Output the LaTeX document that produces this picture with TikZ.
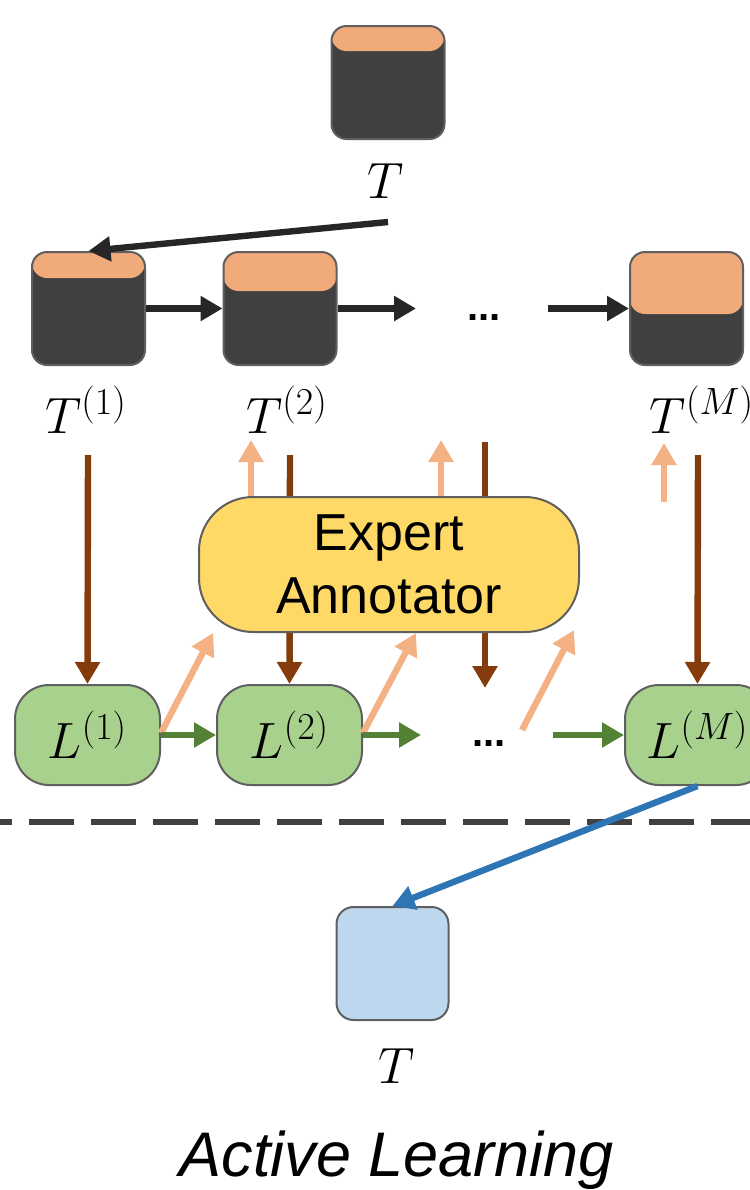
\RequirePackage{fix-cm}
\documentclass[tikz,border=0pt]{standalone}
\usepackage{fontspec}
\newfontfamily\arialf{Liberation Sans}
\usetikzlibrary{arrows.meta,backgrounds}
\definecolor{dark}{HTML}{404040}
\definecolor{bordergray}{HTML}{5F5F5F}
\definecolor{topor}{HTML}{F1AB7B}
\definecolor{lor}{HTML}{F4B183}
\definecolor{gfill}{HTML}{A9D18E}
\definecolor{garrow}{HTML}{538135}
\definecolor{brown}{HTML}{843C0C}
\definecolor{barrow}{HTML}{2E75B6}
\definecolor{bfill}{HTML}{BDD7EE}
\definecolor{yfill}{HTML}{FFD966}
\newcommand{\sss}[1]{\mbox{\fontsize{19}{22}\selectfont$(#1)$}}
\begin{document}
\begin{tikzpicture}[x=0.5pt,y=-0.5pt,
  tbox/.style={draw=bordergray, line width=1pt, fill=dark, rounded corners=7.5pt,
    minimum width=56.5pt, minimum height=56.5pt, inner sep=0pt,
    path picture={\fill[topor] ([yshift=2pt]path picture bounding box.north west)
      rectangle ([yshift=-#1]path picture bounding box.north east);}},
  lbox/.style={draw=bordergray, line width=1pt, fill=gfill, rounded corners=17pt,
    minimum width=72.5pt, minimum height=50pt, inner sep=0pt,
    font=\fontsize{25.5}{30}\selectfont},
  bbox/.style={draw=bordergray, line width=1pt, fill=bfill, rounded corners=8.5pt,
    minimum width=56pt, minimum height=56.5pt, inner sep=0pt},
  expert/.style={draw=bordergray, line width=1pt, fill=yfill, rounded corners=27pt,
    minimum width=190pt, minimum height=67.5pt, inner sep=0pt, align=center,
    font=\arialf\fontsize{26}{31.5}\selectfont},
  lbl/.style={inner sep=0pt, anchor=base, font=\fontsize{25.5}{30}\selectfont},
  dots/.style={inner sep=0pt, font=\arialf\bfseries\fontsize{20}{24}\selectfont},
  arr/.style={line width=3.2pt, -{Triangle[length=11pt,width=12pt]}},
  blk/.style={arr, draw=black!85},
  brn/.style={arr, draw=brown},
  orn/.style={arr, draw=lor},
  grn/.style={arr, draw=garrow},
  blu/.style={arr, draw=barrow},
]
\useasboundingbox (0,0) rectangle (750,1190);

% top row
\node[tbox=12.5pt] (T0) at (388,82.5) {};
\node[lbl] (T0l) at (386,198) {$T$};
\node[tbox=13pt] (T1) at (88.5,308.5) {};
\node[tbox=19.5pt] (T2) at (280,308.5) {};
\node[tbox=31pt] (TM) at (686.5,308.5) {};
\node[dots] (tdots) at (484,318) {...};
\node[lbl] (T1l) at (86,433) {$T^{\sss{1}}$};
\node[lbl] (T2l) at (287,433) {$T^{\sss{2}}$};
\node[lbl] (TMl) at (702,433) {$T^{\sss{M}}$};

% expert annotator
\node[expert] (EA) at (389,564.5) {Expert\\Annotator};

% L row
\node[lbox] (L1) at (87.5,735) {$L^{\sss{1}}$};
\node[lbox] (L2) at (289.5,735) {$L^{\sss{2}}$};
\node[lbox] (LM) at (697.5,735) {$L^{\sss{M}}$};
\node[dots] (ldots) at (489,744) {...};

% bottom
\node[bbox] (TB) at (392.5,963.5) {};
\node[lbl] (TBl) at (397,1083) {$T$};
\node[inner sep=0pt, anchor=base, font=\arialf\itshape\fontsize{31.5}{36}\selectfont] (title) at (397,1176) {Active Learning};

% coordinates
\coordinate (s0) at (388,222);
\coordinate (t2e) at (416,308.5);
\coordinate (tMs) at (548,308.5);
\coordinate (b1) at (88,455);
\coordinate (b2) at (290,455);
\coordinate (b3s) at (485,442);
\coordinate (b3e) at (485,688);
\coordinate (b4) at (698,455);
\coordinate (u1) at (251,440);
\coordinate (u2) at (441,440);
\coordinate (u3s) at (664,502);
\coordinate (u3e) at (664,443);
\coordinate (d1e) at (213,633);
\coordinate (d2e) at (416,633);
\coordinate (d3s) at (522,730);
\coordinate (d3e) at (574,630);
\coordinate (g2e) at (421,735);
\coordinate (g3s) at (553,735);
\coordinate (dl) at (0,822);
\coordinate (dr) at (750,822);

\begin{scope}[on background layer]
\draw[brn] (b1) -- (L1.north);
\draw[brn] (b2) -- (L2.north);
\draw[brn] (b3s) -- (b3e);
\end{scope}
\draw[brn] (b4) -- (LM.north);

\draw[blk] (s0) -- (T1.north);
\draw[blk] (T1.east) -- (T2.west);
\draw[blk] (T2.east) -- (t2e);
\draw[blk] (tMs) -- (TM.west);

\draw[orn] (u1 |- EA.north) -- (u1);
\draw[orn] (u2 |- EA.north) -- (u2);
\draw[orn] (u3s) -- (u3e);
\draw[orn] ([yshift=1pt]L1.east) -- (d1e);
\draw[orn] ([yshift=1pt]L2.east) -- (d2e);
\draw[orn] (d3s) -- (d3e);

\draw[grn] (L1.east) -- (L2.west);
\draw[grn] (L2.east) -- (g2e);
\draw[grn] (g3s) -- (LM.west);

\draw[line width=3pt, draw=dark, dash pattern=on 22.5pt off 8.5pt, dash phase=16.5pt] (dl) -- (dr);

\draw[blu] (LM.south) -- (TB.north);
\end{tikzpicture}
\end{document}
